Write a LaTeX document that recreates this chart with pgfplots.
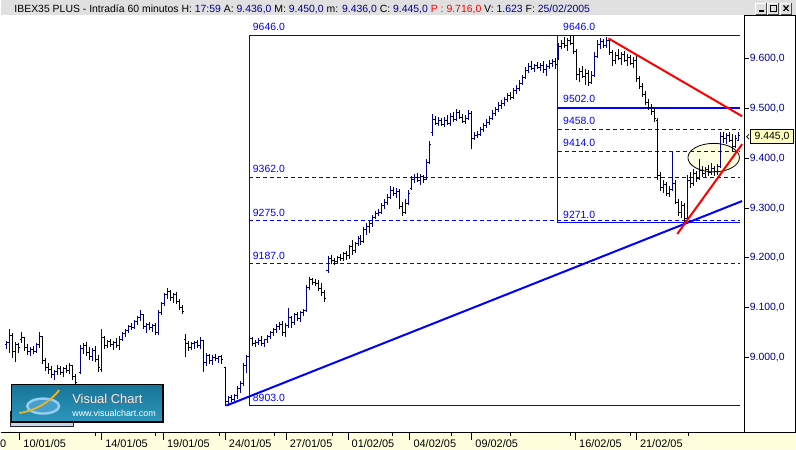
\documentclass[border=0pt]{standalone}
\usepackage{pgfplots}
\pgfplotsset{compat=1.18}
\usepackage{pgfplotstable}
\usepackage{fontspec}
\setmainfont{Liberation Sans}
\usetikzlibrary{shadings}

\definecolor{barnavy}{RGB}{0,0,128}
\definecolor{fibblue}{RGB}{0,0,255}
\definecolor{txtnavy}{RGB}{0,0,140}
\definecolor{titlegray}{RGB}{224,224,224}
\definecolor{stripyellow}{RGB}{255,255,221}
\definecolor{ellfill}{RGB}{255,255,226}
\definecolor{pricebox}{RGB}{255,255,192}
\definecolor{logotop}{RGB}{22,116,150}
\definecolor{logobot}{RGB}{46,152,188}
\definecolor{logoshadow}{RGB}{200,212,236}
\definecolor{logoink}{RGB}{70,160,205}
\definecolor{logoring}{RGB}{150,205,240}
\definecolor{logogold}{RGB}{240,180,30}
\definecolor{logotext}{RGB}{235,238,242}

\newcommand\fs[1]{\fontsize{#1}{#1}\selectfont}

% OHLC tick marks
\pgfdeclareplotmark{openL}{\pgfpathmoveto{\pgfpoint{-1.6bp}{0bp}}\pgfpathlineto{\pgfpoint{0bp}{0bp}}\pgfusepathqstroke}
\pgfdeclareplotmark{closeR}{\pgfpathmoveto{\pgfpoint{0bp}{0bp}}\pgfpathlineto{\pgfpoint{1.6bp}{0bp}}\pgfusepathqstroke}

% hourly bars, x = screen position
\pgfplotstableread{
x o h l c
5 9026 9034 9018 9030
8 9030 9058 9010 9044
11 9044 9050 9000 9012
14 9012 9032 8992 9026
17 9026 9030 9010 9020
20 9036 9051 9030 9040
23 9040 9042 9014 9020
26 9020 9028 9006 9012
29 9012 9022 9004 9016
32 9016 9024 9008 9012
35 9012 9030 9010 9026
38 9026 9051 9020 9042
41 9042 9044 8988 8994
44 8994 9000 8974 8980
47 8980 8990 8968 8976
50 8976 8984 8960 8966
53 8966 8976 8956 8972
56 8972 8986 8966 8978
59 8978 8984 8966 8970
62 8970 8982 8962 8978
65 8978 8986 8970 8974
68 8974 8990 8968 8984
71 8984 8986 8956 8962
74 8962 8968 8944 8950
79 8970 9026 8968 9018
82 9018 9030 9008 9024
85 9024 9032 9004 9010
88 9010 9022 8996 9002
91 9002 9020 8994 9014
94 9014 9024 8992 8996
97 8996 9006 8972 8980
100 8976 9058 8972 9040
103 9040 9044 9018 9024
106 9024 9036 9020 9032
109 9032 9038 9022 9026
112 9026 9034 9016 9030
115 9030 9040 9020 9024
118 9024 9044 9016 9036
121 9036 9052 9034 9048
124 9048 9058 9042 9054
127 9054 9066 9050 9062
130 9062 9070 9056 9060
133 9060 9076 9058 9072
136 9072 9084 9066 9080
139 9080 9096 9074 9086
142 9086 9088 9058 9062
145 9062 9070 9050 9066
148 9066 9072 9056 9060
151 9060 9068 9052 9064
154 9064 9070 9046 9050
157 9050 9096 9046 9090
160 9090 9112 9086 9108
163 9108 9130 9104 9126
166 9126 9140 9118 9132
169 9132 9136 9114 9120
172 9120 9130 9110 9126
175 9126 9132 9108 9112
178 9112 9118 9096 9100
181 9100 9106 9088 9092
184 9036 9048 9002 9028
187 9028 9034 9014 9020
190 9020 9032 9016 9028
193 9028 9034 9018 9030
196 9030 9036 9020 9024
199 9024 9042 9018 9034
202 9034 9036 8972 8990
205 8990 9010 8984 9004
208 9004 9008 8988 8994
211 8994 9006 8986 9000
214 9000 9008 8994 8998
217 8998 9004 8990 9002
220 9002 9006 8988 8996
224 8980 8982 8904 8912
227 8912 8924 8906 8920
230 8920 8926 8912 8916
233 8916 8928 8914 8924
236 8924 8944 8918 8938
239 8938 8954 8930 8948
242 8948 8990 8944 8984
245 8984 9006 8970 9002
248 9002 9046 9000 9038
251 9038 9042 9024 9028
254 9028 9036 9022 9030
257 9030 9040 9026 9034
260 9034 9044 9024 9028
263 9028 9038 9022 9036
266 9036 9046 9030 9042
269 9042 9054 9038 9050
272 9050 9060 9044 9056
275 9056 9068 9050 9062
278 9062 9072 9056 9066
281 9066 9074 9044 9050
284 9050 9070 9042 9064
287 9064 9100 9060 9080
290 9080 9084 9060 9070
293 9070 9090 9066 9086
296 9086 9092 9074 9078
299 9078 9094 9072 9090
302 9090 9098 9084 9094
305 9094 9146 9092 9140
308 9140 9162 9136 9156
311 9156 9160 9146 9150
314 9150 9158 9144 9148
317 9148 9156 9134 9138
320 9138 9150 9124 9130
323 9130 9136 9112 9118
327 9174 9204 9170 9198
330 9198 9206 9188 9194
333 9194 9200 9186 9192
336 9192 9204 9188 9200
339 9200 9208 9194 9198
342 9198 9212 9194 9208
345 9208 9214 9196 9204
348 9204 9226 9198 9222
351 9222 9236 9206 9214
354 9214 9232 9210 9228
357 9228 9244 9224 9238
360 9238 9246 9226 9232
363 9232 9262 9230 9256
366 9256 9270 9246 9262
369 9262 9274 9250 9268
372 9268 9286 9262 9282
375 9282 9294 9278 9290
378 9290 9298 9284 9292
381 9292 9310 9288 9306
384 9306 9318 9298 9312
387 9312 9328 9306 9322
390 9322 9344 9318 9336
393 9336 9342 9324 9330
396 9330 9340 9320 9334
399 9334 9338 9298 9304
402 9304 9312 9284 9292
405 9292 9318 9288 9310
408 9310 9336 9306 9330
411 9340 9364 9336 9358
414 9358 9368 9350 9362
417 9362 9370 9352 9356
420 9356 9368 9346 9364
423 9364 9366 9350 9358
426 9358 9398 9356 9392
429 9392 9434 9388 9428
432 9452 9488 9444 9478
435 9478 9484 9466 9470
438 9470 9482 9464 9476
441 9476 9480 9464 9468
444 9468 9482 9462 9476
447 9476 9486 9466 9470
450 9470 9490 9464 9484
453 9484 9492 9472 9478
456 9478 9498 9474 9492
459 9492 9496 9478 9482
462 9482 9488 9470 9474
465 9474 9486 9468 9480
468 9480 9496 9476 9490
471 9490 9494 9418 9440
474 9440 9452 9436 9446
477 9446 9454 9440 9448
480 9448 9462 9444 9458
483 9458 9470 9452 9466
486 9466 9478 9460 9472
489 9472 9484 9466 9480
492 9480 9496 9476 9490
495 9490 9502 9484 9498
498 9498 9512 9492 9506
501 9506 9516 9498 9510
504 9510 9522 9504 9518
507 9518 9530 9512 9526
510 9526 9532 9516 9522
513 9522 9540 9518 9536
516 9536 9546 9528 9540
519 9540 9556 9534 9550
522 9550 9566 9546 9562
525 9562 9582 9558 9576
528 9576 9590 9570 9584
531 9584 9594 9576 9580
534 9580 9588 9572 9586
537 9586 9592 9578 9582
540 9582 9590 9574 9586
543 9586 9594 9570 9578
546 9578 9588 9564 9584
549 9584 9596 9578 9590
552 9590 9598 9582 9594
555 9594 9600 9578 9588
558 9600 9630 9596 9624
561 9624 9636 9618 9630
564 9630 9642 9620 9626
567 9626 9640 9614 9636
570 9636 9646 9626 9630
573 9630 9644 9608 9614
576 9614 9618 9556 9568
579 9568 9580 9552 9574
582 9574 9584 9560 9564
585 9564 9578 9546 9570
588 9570 9576 9544 9552
591 9552 9574 9548 9566
594 9566 9612 9562 9604
597 9604 9636 9600 9628
600 9628 9640 9618 9634
603 9634 9638 9620 9626
606 9626 9642 9620 9636
609 9636 9640 9606 9612
612 9612 9616 9584 9596
615 9596 9612 9588 9606
618 9606 9618 9596 9600
621 9600 9612 9586 9608
624 9608 9614 9592 9596
627 9596 9608 9584 9602
630 9602 9606 9586 9590
633 9590 9602 9580 9596
636 9596 9608 9552 9560
639 9560 9564 9538 9544
642 9544 9550 9522 9528
645 9528 9534 9506 9512
648 9512 9518 9496 9502
651 9502 9508 9486 9494
654 9494 9500 9472 9480
657 9476 9480 9356 9366
660 9366 9372 9334 9342
663 9342 9356 9330 9348
666 9348 9352 9324 9330
669 9330 9344 9322 9338
672 9338 9412 9334 9350
675 9350 9356 9308 9312
678 9312 9318 9284 9292
681 9292 9314 9280 9306
684 9306 9310 9272 9280
687 9280 9366 9274 9356
690 9356 9372 9340 9350
693 9350 9378 9344 9370
696 9370 9374 9352 9360
699 9360 9398 9356 9376
702 9376 9384 9362 9370
705 9370 9382 9360 9378
708 9378 9386 9364 9372
711 9372 9390 9366 9380
714 9380 9384 9364 9374
717 9374 9388 9366 9384
720 9384 9452 9380 9444
723 9444 9452 9430 9440
726 9440 9450 9428 9446
729 9446 9452 9432 9436
732 9436 9448 9414 9424
735 9424 9446 9420 9440
738 9436 9452 9434 9445
}\bars

\begin{document}
\begin{tikzpicture}
\begin{scope}[x=1bp,y=1bp]
\useasboundingbox (0,0) rectangle (796,451);
\fill[white] (0,0) rectangle (796,451);
\end{scope}

\begin{axis}[
  at={(0bp,18bp)}, anchor=south west,
  scale only axis, width=745bp, height=415bp,
  xmin=-0.5, xmax=744.5, ymin=8851, ymax=9681,
  hide axis, clip=true,
]
% marked area
\draw[black, fill=ellfill, line width=0.8bp] (axis cs:713.5,9401) ellipse [x radius=25.8bp, y radius=14.3bp];

% retracement 8903 -> 9646
\addplot[fibblue, line width=1bp] coordinates {(740,9646) (248,9646) (248,8904) (740,8904)};
\addplot[fibblue, line width=1bp, dash pattern=on 4bp off 3bp] coordinates {(248,9362) (740,9362)};
\addplot[fibblue, line width=1bp, dash pattern=on 4bp off 3bp] coordinates {(248,9276) (740,9276)};
\addplot[fibblue, line width=1bp, dash pattern=on 4bp off 3bp] coordinates {(248,9188) (740,9188)};
% retracement 9271 -> 9646
\addplot[fibblue, line width=1bp] coordinates {(557,9646) (557,9270) (740,9270)};
\addplot[fibblue, line width=2bp] coordinates {(557,9501) (740,9501)};
\addplot[fibblue, line width=1bp, dash pattern=on 4bp off 3bp] coordinates {(557,9458) (740,9458)};
\addplot[fibblue, line width=1bp, dash pattern=on 4bp off 3bp] coordinates {(557,9414) (740,9414)};

% up bars: high-low line, open tick, close tick
\addplot[draw=none, mark=none,
  restrict expr to domain={\thisrow{c}-\thisrow{o}}{0:1000},
  error bars/.cd, y dir=minus, y explicit, error mark=none,
  error bar style={draw=barnavy, line width=1bp, solid}]
  table[x=x, y=h, y error expr=\thisrow{h}-\thisrow{l}] {\bars};
\addplot[barnavy, only marks, mark=openL, mark options={line width=1bp},
  restrict expr to domain={\thisrow{c}-\thisrow{o}}{0:1000}]
  table[x=x, y=o] {\bars};
\addplot[barnavy, only marks, mark=closeR, mark options={line width=1bp},
  restrict expr to domain={\thisrow{c}-\thisrow{o}}{0:1000}]
  table[x=x, y=c] {\bars};
% down bars
\addplot[draw=none, mark=none,
  restrict expr to domain={\thisrow{c}-\thisrow{o}}{-1000:-0.5},
  error bars/.cd, y dir=minus, y explicit, error mark=none,
  error bar style={draw=black, line width=1bp, solid}]
  table[x=x, y=h, y error expr=\thisrow{h}-\thisrow{l}] {\bars};
\addplot[black, only marks, mark=openL, mark options={line width=1bp},
  restrict expr to domain={\thisrow{c}-\thisrow{o}}{-1000:-0.5}]
  table[x=x, y=o] {\bars};
\addplot[black, only marks, mark=closeR, mark options={line width=1bp},
  restrict expr to domain={\thisrow{c}-\thisrow{o}}{-1000:-0.5}]
  table[x=x, y=c] {\bars};

% trend lines
\addplot[fibblue, line width=2bp] coordinates {(225,8904) (742,9314)};
\addplot[red, line width=2bp] coordinates {(608,9640) (742,9484)};
\addplot[red, line width=2bp] coordinates {(677,9248) (742,9428)};

% level labels
\begin{scope}[every node/.style={anchor=base west, inner sep=0pt, text=fibblue, font=\fs{10.5}}]
\node at (axis cs:251.5,9655) {9646.0};
\node at (axis cs:251.5,9371) {9362.0};
\node at (axis cs:251.5,9284) {9275.0};
\node at (axis cs:251.5,9196) {9187.0};
\node at (axis cs:251.5,8912) {8903.0};
\node at (axis cs:562.5,9655) {9646.0};
\node at (axis cs:562.5,9511) {9502.0};
\node at (axis cs:562.5,9467) {9458.0};
\node at (axis cs:562.5,9423) {9414.0};
\node at (axis cs:562.5,9280) {9271.0};
\end{scope}
\end{axis}

\begin{scope}[x=1bp,y=1bp]
% title bar
\fill[titlegray] (0,436) rectangle (796,451);
\node[anchor=base west, inner sep=0pt, font=\fs{10.5}] at (13,438.5) {IBEX35 PLUS - Intradía 60 minutos H: \textcolor{txtnavy}{17:59} A: \textcolor{txtnavy}{9.436,0} M: \textcolor{txtnavy}{9.450,0} m: \textcolor{txtnavy}{9.436,0} C: \textcolor{txtnavy}{9.445,0} \textcolor{red}{P : 9.716,0} V: \textcolor{txtnavy}{1.623} F: \textcolor{txtnavy}{25/02/2005}};
% window buttons
\foreach \bx in {756,768,781} {
  \fill[titlegray] (\bx,437) rectangle (\bx+11,448);
  \draw[white, line width=0.8bp] (\bx,437) -- (\bx,448) -- (\bx+11,448);
  \draw[black!70, line width=0.8bp] (\bx,437) -- (\bx+11,437) -- (\bx+11,448);
}
\draw[black, line width=1.5bp] (759,440) -- (764,440);
\draw[black, line width=0.8bp] (771,440) rectangle (777,445.5);
\draw[black, line width=1.5bp] (771,445.5) -- (777,445.5);
\draw[black, line width=1.2bp] (784,440) -- (789,445.5) (784,445.5) -- (789,440);

% right price panel
\draw[black, line width=1bp] (744.5,18) -- (744.5,435.5) -- (795.5,435.5) -- (795.5,18);
\foreach \yy/\lab in {392.5/9.600,342.5/9.500,292.5/9.400,242.5/9.300,192.5/9.200,142.5/9.100,92.5/9.000} {
  \draw[black, line width=1bp] (744.5,\yy) -- (749,\yy);
  \node[anchor=west, inner sep=0pt, text=txtnavy, font=\fs{10.5}] at (750,\yy) {\lab,0};
}
\draw[black, fill=pricebox, line width=0.8bp] (751,307) rectangle (794,321.5);
\node[inner sep=0pt, font=\fs{10.5}] at (772.5,314.2) {9.445,0};
\draw[black, line width=0.7bp] (749.5,316.5) -- (747,314) -- (749.5,311.5);

% date strip
\fill[stripyellow] (0,0) rectangle (796,17.5);
\draw[black, line width=1bp] (0,17.5) -- (796,17.5);
\foreach \tx in {18,100,162,224,285,347,409,471,575,636} {
  \draw[black, line width=1bp] (\tx+0.5,17.5) -- (\tx+0.5,10);
}
\foreach \tx in {94,154,218,273,331,392,451,510,570,630,688} {
  \draw[black, line width=1bp] (\tx+0.5,17.5) -- (\tx+0.5,14);
}
\foreach \tx/\dl in {18/{10/01/05},100/{14/01/05},162/{19/01/05},224/{24/01/05},285/{27/01/05},347/{01/02/05},409/{04/02/05},471/{09/02/05},575/{16/02/05},636/{21/02/05}} {
  \node[anchor=base west, inner sep=0pt, font=\fs{11}] at (\tx+4,2.5) {\dl};
}
\node[anchor=base east, inner sep=0pt, font=\fs{11}] at (5,2.5) {0};

% Visual Chart logo
\draw[fill=logoshadow, draw=black!85, line width=1bp] (9,24) rectangle (72,39);
\shade[top color=logotop, bottom color=logobot] (10,28) rectangle (162,66);
\draw[black, line width=1.2bp] (10,28) rectangle (162,66);
\fill[logoink] (42,44) ellipse [x radius=16bp, y radius=7.5bp];
\draw[logoring, line width=2.4bp] (42,44) ellipse [x radius=16bp, y radius=7.5bp];
\draw[logogold, line width=1.8bp] (18,37) .. controls (32,39) and (48,47) .. (58,60);
\node[anchor=base west, inner sep=0pt, text=black!60, font=\fs{13}] at (71.8,45.7) {Visual Chart};
\node[anchor=base west, inner sep=0pt, text=logotext, font=\fs{13}] at (71,46.5) {Visual Chart};
\node[anchor=base west, inner sep=0pt, text=white, font=\fs{9}] at (71,34) {www.visualchart.com};
\end{scope}
\end{tikzpicture}
\end{document}
